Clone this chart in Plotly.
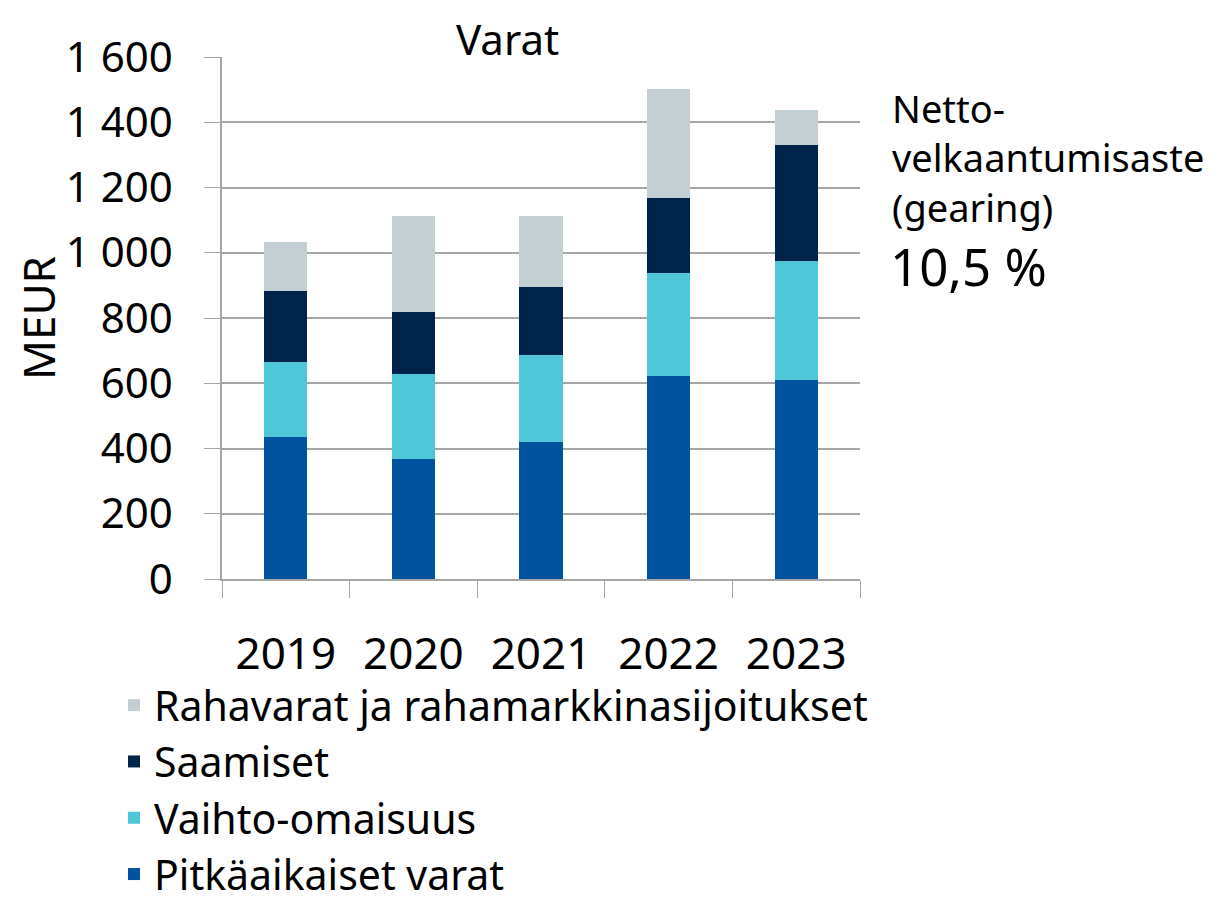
import plotly.graph_objects as go

years = ["2019", "2020", "2021", "2022", "2023"]
pitkaaikaiset = [434, 369, 421, 622, 610]
vaihto = [230, 260, 267, 317, 364]
saamiset = [219, 189, 207, 230, 355]
rahavarat = [150, 295, 218, 333, 108]

series = [
    ("Pitkäaikaiset varat", pitkaaikaiset, "#00549F"),
    ("Vaihto-omaisuus", vaihto, "#4EC8D8"),
    ("Saamiset", saamiset, "#00234A"),
    ("Rahavarat ja rahamarkkinasijoitukset", rahavarat, "#C4CFD4"),
]

FONT = "Noto Sans"
OFF = 8  # page body margin
W, H = 1218 - OFF, 903 - OFF
L, R, T, B = 222 - OFF, 860 - OFF, 57 - OFF, 579 - OFF
PW, PH = R - L, B - T

fig = go.Figure()
for name, vals, col in series:
    fig.add_trace(go.Bar(x=years, y=vals, name=name, marker=dict(color=col, line=dict(width=0))))

fig.update_layout(
    barmode="stack",
    bargap=0.66,
    width=W, height=H,
    margin=dict(l=L, r=W - R, t=T, b=H - B, autoexpand=False),
    paper_bgcolor="white", plot_bgcolor="white",
    font=dict(family=FONT, size=42, color="black"),
    showlegend=True,
    legend=dict(
        orientation="v", traceorder="reversed",
        x=(114 - OFF - L) / PW, xanchor="left", y=(B - (672 - OFF)) / PH, yanchor="top",
        font=dict(size=41), itemwidth=30, tracegroupgap=0,
    ),
    xaxis=dict(
        showline=True, linecolor="#A6A6A6", linewidth=1.5,
        ticks="outside", tickson="boundaries", ticklen=17, tickcolor="#A6A6A6",
        tickfont=dict(size=44), ticklabelstandoff=35,
    ),
    yaxis=dict(
        range=[0, 1600], dtick=200, tickformat=",d",
        showgrid=True, gridcolor="#A6A6A6", gridwidth=1.5,
        showline=True, linecolor="#A6A6A6", linewidth=1.5,
        ticks="outside", ticklen=16, tickcolor="#A6A6A6",
        tickfont=dict(size=42), ticklabelstandoff=23,
        title=dict(text="MEUR", font=dict(size=44), standoff=8),
        zeroline=False,
    ),
    separators=", ",
)

fig.add_annotation(text="Varat", xref="paper", yref="paper", x=(507 - OFF - L) / PW, y=1 + T / PH,
                   xanchor="center", yanchor="top", showarrow=False, font=dict(size=42))
fig.add_annotation(text="Netto-<br>velkaantumisaste<br>(gearing)", xref="paper", yref="paper",
                   x=(890 - OFF - L) / PW, y=(B - (80 - OFF)) / PH, xanchor="left", yanchor="top",
                   align="left", showarrow=False, font=dict(size=38))
fig.add_annotation(text="10,5 %", xref="paper", yref="paper",
                   x=(888 - OFF - L) / PW, y=(B - (229 - OFF)) / PH, xanchor="left", yanchor="top",
                   align="left", showarrow=False, font=dict(size=51))

fig.write_html("out.html")
